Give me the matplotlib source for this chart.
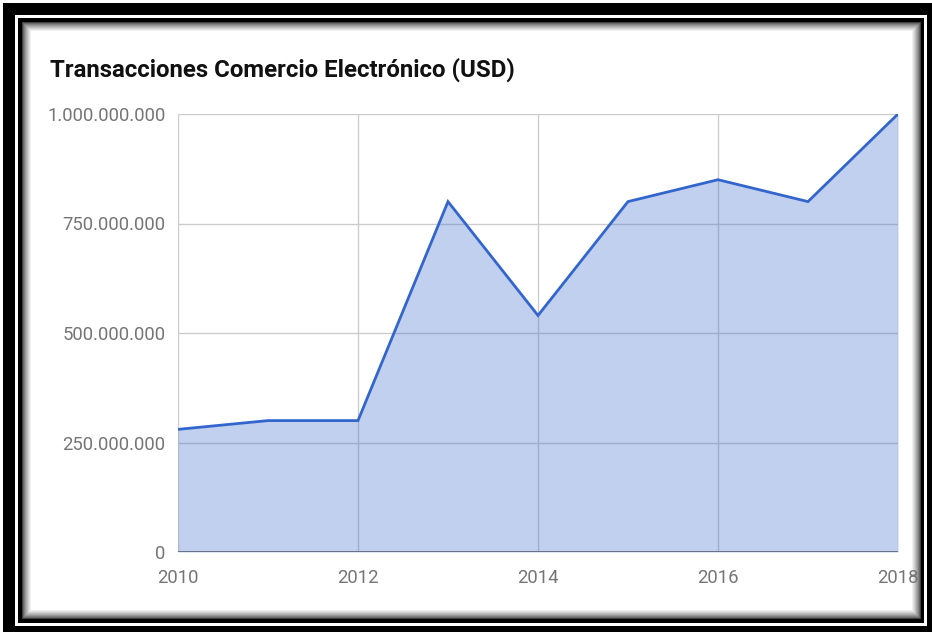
import matplotlib.pyplot as plt
from matplotlib.patches import Rectangle
from matplotlib.ticker import FuncFormatter

plt.rcParams['font.family'] = ['Roboto', 'DejaVu Sans']

years = [2010, 2011, 2012, 2013, 2014, 2015, 2016, 2017, 2018]
transacciones = [280e6, 300e6, 300e6, 800e6, 540e6, 800e6, 850e6, 800e6, 1000e6]
y_ticks = [0, 250e6, 500e6, 750e6, 1000e6]
x_ticks = [2010, 2012, 2014, 2016, 2018]

W, H = 932, 632
fig = plt.figure(figsize=(W / 100, H / 100), dpi=100)
fig.patch.set_facecolor('white')


def px_rect(x0, y0, x1, y1, **kw):
    # rectangle given in pixel coords measured from the top-left corner
    r = Rectangle((x0 / W, 1 - y1 / H), (x1 - x0) / W, (y1 - y0) / H,
                  transform=fig.transFigure, **kw)
    fig.add_artist(r)


# black double frame
px_rect(0, 0, W, H, facecolor='black', edgecolor='none')
px_rect(0, 0, 3, H, facecolor='white', edgecolor='none')
px_rect(0, 0, W, 3, facecolor='white', edgecolor='none')
px_rect(15, 15, 927, 626, facecolor='white', edgecolor='none')
px_rect(18, 18, 924, 623, facecolor='black', edgecolor='none')
# soft inner shadow
for i in range(10):
    g = 0.25 + 0.75 * (i / 9) ** 0.7
    px_rect(22 + i, 22 + i, 921 - i, 619 - i, facecolor=(g, g, g), edgecolor='none')

ax = fig.add_axes([178 / W, 80 / H, 720 / W, 438 / H])
ax.set_facecolor('white')
ax.set_zorder(2)

ax.plot(years, transacciones, color='#3366cc', lw=2.0, zorder=4, solid_joinstyle='miter')
ax.fill_between(years, transacciones, 0, color='#3366cc', alpha=0.3, lw=0, zorder=3)

ax.set_xlim(2010, 2018)
ax.set_ylim(0, 1000e6)
ax.set_xticks(x_ticks)
ax.set_yticks(y_ticks)
ax.yaxis.set_major_formatter(FuncFormatter(
    lambda v, p: '0' if v == 0 else f'{int(v):,}'.replace(',', '.')))
ax.grid(True, color='#cccccc', lw=1, zorder=1)
ax.axhline(0, color='#5a6475', lw=1.2, zorder=5)

for s in ax.spines.values():
    s.set_visible(False)
ax.tick_params(length=0, labelsize=13.3, labelcolor='#757575')
ax.tick_params(axis='y', pad=9)
ax.tick_params(axis='x', pad=12)

fig.text(50 / W, 1 - 70 / H, 'Transacciones Comercio Electrónico (USD)',
         fontsize=17.3, fontweight='bold', color='#111111', va='center', ha='left')

fig.savefig('out.png', dpi=100)
